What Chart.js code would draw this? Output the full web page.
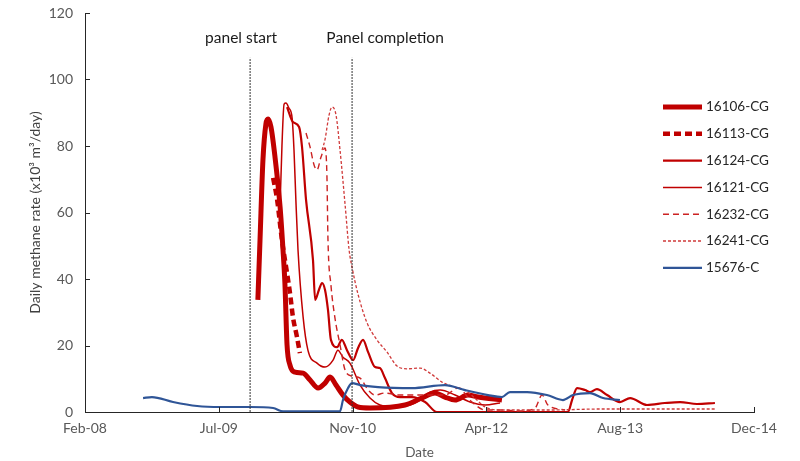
<!DOCTYPE html>
<html>
<head>
<meta charset="utf-8">
<script src="https://cdn.jsdelivr.net/npm/chart.js@4/dist/chart.umd.min.js"></script>
<style>
  html, body { margin: 0; padding: 0; background: #fff; }
</style>
</head>
<body>
<canvas id="methane" width="800" height="461"></canvas>
<script>
// x = days after 21 Feb 2008 (axis start), y = daily rate in x10^3 m3/day
var xTickLabels = ['Feb-08', 'Jul-09', 'Nov-10', 'Apr-12', 'Aug-13', 'Dec-14'];
var seriesNames = ['16106-CG', '16113-CG', '16124-CG', '16121-CG', '16232-CG', '16241-CG', '15676-C'];

var s16106 = [[646,33.7],[654,51.7],[665,75.8],[676,86.6],[684,88.1],[695,85.7],[710,76.7],[729,61.7],[740,48.7],[747,38.8],[755,20.2],[766,14.1],[785,12.0],[815,11.7],[841,9.6],[871,7.2],[897,8.7],[916,10.5],[938,8.1],[964,5.1],[990,3.0],[1020,1.5],[1065,1.2],[1196,2.1],[1259,4.2],[1308,5.7],[1345,4.5],[1383,3.6],[1431,5.1],[1469,4.5],[1558,3.6]];
var s16113 = [[703,70.4],[718,63.8],[736,51.7],[755,41.8],[766,35.8],[777,28.6],[792,22.6],[803,17.7]];
var s16124 = [[755,91.7],[777,87.2],[800,85.7],[811,79.7],[826,63.8],[852,45.7],[860,33.7],[874,36.7],[886,38.8],[897,36.7],[908,30.7],[919,21.7],[942,19.5],[960,21.7],[979,18.6],[1002,15.6],[1020,19.2],[1039,21.7],[1058,18.0],[1084,13.5],[1102,13.2],[1121,10.2],[1147,5.7],[1177,4.5],[1222,4.5],[1271,3.0],[1315,0],[1551,0],[1805,0],[1820,3.6],[1839,7.2],[1869,6.6],[1887,6.0],[1913,6.9],[1951,5.1],[1999,3.0],[2037,4.2],[2100,2.1],[2167,2.7],[2224,3.0],[2287,2.4],[2354,2.7]];
var s16121 = [[729,62.0],[736,80.0],[744,92.6],[751,92.9],[762,91.4],[774,88.4],[781,78.8],[788,63.8],[796,48.7],[815,28.6],[833,18.6],[867,14.7],[897,13.5],[927,15.6],[945,18.6],[964,16.5],[990,14.7],[1028,8.1],[1065,4.2],[1102,2.1],[1158,1.5],[1215,2.1],[1252,3.6],[1289,6.0],[1327,6.6],[1383,5.1],[1439,3.0],[1495,2.1],[1551,2.7]];
var s16232 = [[826,83.9],[841,79.7],[856,74.3],[867,72.8],[882,76.7],[897,79.4],[904,71.3],[908,51.7],[919,38.2],[934,28.3],[953,20.2],[972,12.6],[998,10.8],[1028,10.2],[1058,6.6],[1084,5.1],[1121,5.7],[1177,5.1],[1252,5.1],[1345,5.1],[1394,7.2],[1446,3.0],[1495,0.6],[1551,0.6],[1626,0.3],[1682,1.2],[1708,5.1],[1730,2.1],[1794,0.6]];
var s16241 = [[886,78.8],[897,82.0],[912,89.3],[923,91.7],[938,89.3],[953,78.8],[972,62.3],[987,48.7],[998,43.5],[1020,35.5],[1054,26.8],[1091,21.7],[1129,18.0],[1166,13.8],[1203,13.0],[1252,13.2],[1289,11.7],[1334,9.0],[1383,7.5],[1420,6.6],[1457,4.2],[1495,1.5],[1551,0.6],[1738,0.6],[1925,0.9],[2111,0.9],[2354,0.9]];
var s15676 = [[217,4.2],[250,4.5],[329,3.0],[419,1.8],[504,1.5],[617,1.5],[703,1.2],[740,0.2],[841,0.2],[953,0.2],[964,3.6],[983,7.2],[998,8.7],[1028,8.1],[1095,7.5],[1222,7.2],[1345,8.1],[1420,6.6],[1506,5.1],[1558,4.5],[1588,6.0],[1652,6.0],[1726,5.1],[1786,3.6],[1824,5.1],[1887,5.7],[1936,4.2],[1999,3.6]];

var panelDays = [617, 998];
var panelLabels = ['panel start', 'Panel completion'];
var panelTop = 106.5;

function pts(arr) {
    return arr.map(function (p) { return { x: p[0], y: p[1] }; });
}

var red = '#C00000';
var styles = [
    { data: s16106, color: red, width: 5 },
    { data: s16113, color: red, width: 4.5, dash: [7, 4] },
    { data: s16124, color: red, width: 2.2 },
    { data: s16121, color: red, width: 1.5 },
    { data: s16232, color: '#CC2222', width: 1.4, dash: [6, 4] },
    { data: s16241, color: '#D03A3A', width: 1.3, dash: [3, 2] },
    { data: s15676, color: '#2F5597', width: 2.2 }
];

var datasets = styles.map(function (s, i) {
    return {
        label: seriesNames[i],
        data: pts(s.data),
        borderColor: s.color,
        borderWidth: s.width,
        borderDash: s.dash || [],
        pointRadius: 0,
        cubicInterpolationMode: 'monotone',
        fill: false,
        order: styles.length - i + 2
    };
});

// panel start / completion markers
panelDays.forEach(function (d) {
    datasets.push({
        label: 'marker',
        data: [{ x: d, y: 0 }, { x: d, y: panelTop }],
        borderColor: '#333333',
        borderWidth: 1,
        borderDash: [2, 1],
        pointRadius: 0,
        fill: false,
        order: 1
    });
});

var overlay = {
    id: 'overlay',
    afterDraw: function (chart) {
        var ctx = chart.ctx, x = chart.scales.x, y = chart.scales.y;
        ctx.save();
        // small inside tick marks like excel
        ctx.strokeStyle = '#262626';
        ctx.lineWidth = 1;
        x.ticks.forEach(function (t) {
            var px = Math.round(x.getPixelForValue(t.value)) + 0.5;
            ctx.beginPath(); ctx.moveTo(px, y.bottom); ctx.lineTo(px, y.bottom - 5); ctx.stroke();
        });
        y.ticks.forEach(function (t) {
            var py = Math.round(y.getPixelForValue(t.value)) + 0.5;
            ctx.beginPath(); ctx.moveTo(x.left, py); ctx.lineTo(x.left + 5, py); ctx.stroke();
        });

        // marker labels
        ctx.font = '15.5px Lato';
        ctx.fillStyle = '#1a1a1a';
        ctx.textAlign = 'center';
        ctx.textBaseline = 'middle';
        var shift = [-9, 33];
        panelDays.forEach(function (d, i) {
            ctx.fillText(panelLabels[i], x.getPixelForValue(d) + shift[i], 38);
        });

        // legend
        ctx.font = '13.5px Lato';
        ctx.textAlign = 'left';
        seriesNames.forEach(function (name, i) {
            var ds = chart.data.datasets[i];
            var ly = 107 + i * 26.8;
            ctx.beginPath();
            ctx.setLineDash(ds.borderDash);
            ctx.lineWidth = ds.borderWidth;
            ctx.strokeStyle = ds.borderColor;
            ctx.moveTo(663, ly); ctx.lineTo(702, ly);
            ctx.stroke();
            ctx.setLineDash([]);
            ctx.fillStyle = '#262626';
            ctx.fillText(name, 706, ly);
        });
        ctx.restore();
    }
};

var ctx = document.getElementById('methane').getContext('2d');
var chart = new Chart(ctx, {
    type: 'line',
    data: { datasets: datasets },
    options: {
        responsive: false,
        animation: false,
        layout: { padding: { top: 13, right: 46, left: 0, bottom: 0 } },
        plugins: { legend: { display: false }, tooltip: { enabled: false } },
        scales: {
            x: {
                type: 'linear',
                min: 0,
                max: 2500,
                afterFit: function (s) { s.height = 49; },
                grid: { display: false, drawTicks: false },
                border: { display: true, color: '#262626', width: 1 },
                ticks: {
                    stepSize: 500,
                    autoSkip: false,
                    maxRotation: 0,
                    padding: 8,
                    color: '#595959',
                    font: { family: 'Lato', size: 14 },
                    callback: function (v, i) { return xTickLabels[i]; }
                },
                title: { display: true, text: 'Date', color: '#595959', font: { family: 'Lato', size: 13.5 }, padding: { top: 1, bottom: 0 } }
            },
            y: {
                min: 0,
                max: 120,
                afterFit: function (s) { s.width = 85; s.paddingTop = 0; s.paddingBottom = 0; },
                grid: { display: false, drawTicks: false },
                border: { display: true, color: '#262626', width: 1 },
                ticks: {
                    stepSize: 20,
                    padding: 12,
                    color: '#595959',
                    font: { family: 'Lato', size: 14 }
                },
                title: { display: true, text: 'Daily methane rate (x10³ m³/day)', color: '#404040', font: { family: 'Lato', size: 14 }, padding: { top: 27, bottom: 0 } }
            }
        }
    },
    plugins: [overlay]
});
</script>
</body>
</html>
